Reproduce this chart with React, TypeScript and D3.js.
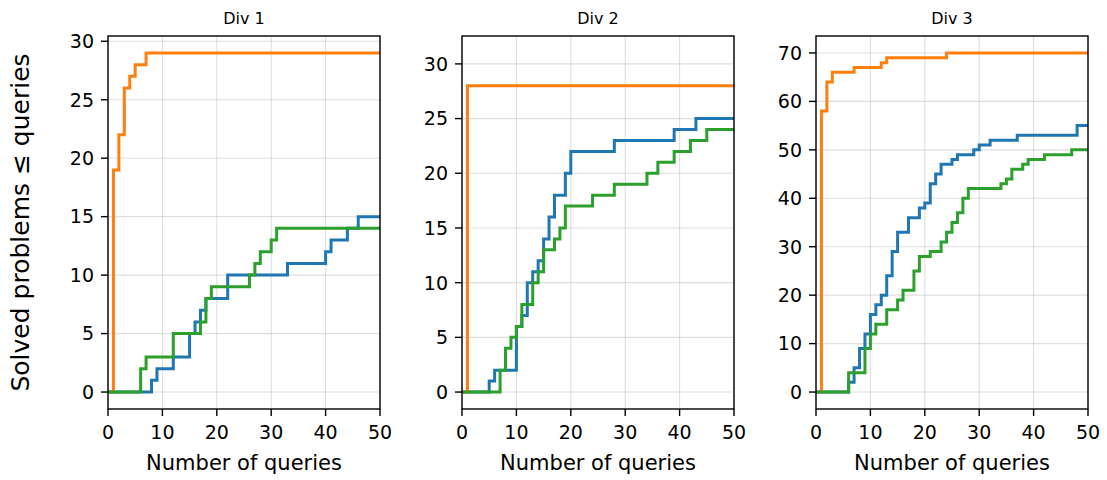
import React from "react";
import * as d3 from "d3";

type Pt = [number, number];

const panelTitles = ["Div 1", "Div 2", "Div 3"];
const xTicks = [0, 10, 20, 30, 40, 50];
const yTicks1 = [0, 5, 10, 15, 20, 25, 30];
const yTicks2 = [0, 5, 10, 15, 20, 25, 30];
const yTicks3 = [0, 10, 20, 30, 40, 50, 60, 70];
const yMax = [29, 31, 70];

const div1Blue: Pt[] = [[0,0],[8,1],[9,2],[12,3],[15,5],[16,6],[17,7],[18,8],[22,10],[33,11],[40,12],[41,13],[44,14],[46,15],[50,15]];
const div1Orange: Pt[] = [[0,0],[1,19],[2,22],[3,26],[4,27],[5,28],[7,29],[50,29]];
const div1Green: Pt[] = [[0,0],[6,2],[7,3],[12,5],[17,6],[18,8],[19,9],[26,10],[27,11],[28,12],[30,13],[31,14],[50,14]];

const div2Blue: Pt[] = [[0,0],[5,1],[6,2],[10,6],[11,7],[12,10],[13,11],[14,12],[15,14],[16,16],[17,18],[19,20],[20,22],[28,23],[39,24],[43,25],[50,25]];
const div2Orange: Pt[] = [[0,0],[1,28],[50,28]];
const div2Green: Pt[] = [[0,0],[7,2],[8,4],[9,5],[10,6],[11,8],[13,10],[14,11],[15,13],[17,14],[18,15],[19,17],[24,18],[28,19],[34,20],[36,21],[39,22],[42,23],[45,24],[50,24]];

const div3Blue: Pt[] = [[0,0],[6,2],[7,5],[8,9],[9,12],[10,16],[11,18],[12,20],[13,24],[14,29],[15,33],[17,36],[19,38],[20,39],[21,43],[22,45],[23,47],[25,48],[26,49],[29,50],[30,51],[32,52],[37,53],[48,55],[50,55]];
const div3Orange: Pt[] = [[0,0],[1,58],[2,64],[3,66],[7,67],[12,68],[13,69],[24,70],[50,70]];
const div3Green: Pt[] = [[0,0],[6,4],[9,9],[10,12],[11,14],[13,17],[15,19],[16,21],[18,25],[19,28],[21,29],[23,31],[24,33],[25,35],[26,37],[27,40],[28,42],[34,43],[35,44],[36,46],[38,47],[39,48],[42,49],[47,50],[50,50]];

const seriesColors = ["#1f77b4", "#ff7f0e", "#2ca02c"];
const panels = [
  { series: [div1Blue, div1Orange, div1Green], yTicks: yTicks1 },
  { series: [div2Blue, div2Orange, div2Green], yTicks: yTicks2 },
  { series: [div3Blue, div3Orange, div3Green], yTicks: yTicks3 },
];

const W = 1107, H = 480;
const lefts = [108, 462, 816];
const pw = 272;
const top = 36, bottom = 409;
const FONT = "DejaVu Sans, sans-serif";

function Panel({ idx }: { idx: number }) {
  const p = panels[idx];
  const x0 = lefts[idx];
  const m = yMax[idx];
  const x = d3.scaleLinear().domain([0, 50]).range([x0, x0 + pw]);
  const y = d3.scaleLinear().domain([-0.05 * m, 1.05 * m]).range([bottom, top]);
  const line = d3.line<Pt>().x(d => x(d[0])).y(d => y(d[1])).curve(d3.curveStepAfter);
  const clipId = `clip${idx}`;
  return (
    <g>
      <defs>
        <clipPath id={clipId}>
          <rect x={x0} y={top} width={pw} height={bottom - top} />
        </clipPath>
      </defs>
      {xTicks.map(t => (
        <line key={"gx" + t} x1={x(t)} x2={x(t)} y1={top} y2={bottom} stroke="#b0b0b0" strokeOpacity={0.4} strokeWidth={1.1} />
      ))}
      {p.yTicks.map(t => (
        <line key={"gy" + t} x1={x0} x2={x0 + pw} y1={y(t)} y2={y(t)} stroke="#b0b0b0" strokeOpacity={0.4} strokeWidth={1.1} />
      ))}
      <g clipPath={`url(#${clipId})`}>
        {p.series.map((s, i) => (
          <path key={i} d={line(s) || ""} fill="none" stroke={seriesColors[i]} strokeWidth={3} strokeLinejoin="miter" />
        ))}
      </g>
      <rect x={x0} y={top} width={pw} height={bottom - top} fill="none" stroke="#000" strokeWidth={1.4} />
      {xTicks.map(t => (
        <g key={"tx" + t}>
          <line x1={x(t)} x2={x(t)} y1={bottom} y2={bottom + 7} stroke="#000" strokeWidth={1.4} />
          <text x={x(t)} y={bottom + 30} textAnchor="middle" fontSize={19} fontFamily={FONT} fill="#000">{t}</text>
        </g>
      ))}
      {p.yTicks.map(t => (
        <g key={"ty" + t}>
          <line x1={x0 - 7} x2={x0} y1={y(t)} y2={y(t)} stroke="#000" strokeWidth={1.4} />
          <text x={x0 - 14} y={y(t)} dy="0.36em" textAnchor="end" fontSize={19} fontFamily={FONT} fill="#000">{t}</text>
        </g>
      ))}
      <text x={x0 + pw / 2} y={24} textAnchor="middle" fontSize={16} fontFamily={FONT} fill="#000">{panelTitles[idx]}</text>
      <text x={x0 + pw / 2} y={470} textAnchor="middle" fontSize={21} fontFamily={FONT} fill="#000">Number of queries</text>
    </g>
  );
}

export default function App() {
  return (
    <svg width={W} height={H} style={{ position: "absolute", left: 0, top: 0, background: "#fff" }}>
      <rect x={0} y={0} width={W} height={H} fill="#fff" />
      {[0, 1, 2].map(i => <Panel key={i} idx={i} />)}
      <text transform={`translate(29,${(top + bottom) / 2}) rotate(-90)`} textAnchor="middle" fontSize={25} fontFamily={FONT} fill="#000">Solved problems ≤ queries</text>
    </svg>
  );
}
